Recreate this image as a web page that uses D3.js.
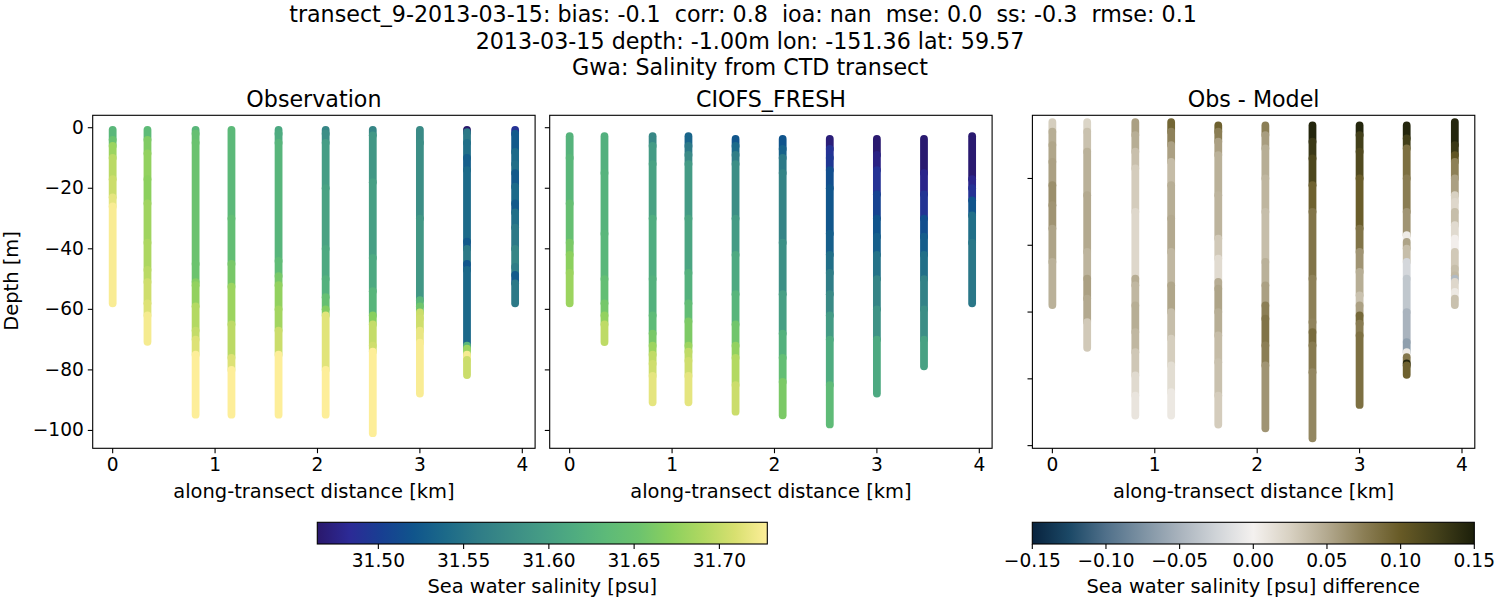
<![CDATA[<!DOCTYPE html>
<html>
<head>
<meta charset="utf-8">
<script src="https://cdn.jsdelivr.net/npm/d3@7"></script>
<style>
  html, body { margin: 0; padding: 0; background: #fff; overflow: hidden; }
  svg { display: block; }
  text { font-family: "DejaVu Sans", sans-serif; fill: #000; white-space: pre; }
</style>
</head>
<body>
<div id="chart"></div>
<script>
// station positions along the transect [km]
var stationKm = [0, 0.34, 0.81, 1.16, 1.62, 2.08, 2.54, 3.0, 3.46, 3.93];

var titleLines = [
  "transect_9-2013-03-15: bias: -0.1  corr: 0.8  ioa: nan  mse: 0.0  ss: -0.3  rmse: 0.1",
  "2013-03-15 depth: -1.00m lon: -151.36 lat: 59.57",
  "Gwa: Salinity from CTD transect"
];
var panelTitles = ["Observation", "CIOFS_FRESH", "Obs - Model"];

// each column: depth band edges [m] and the value read for each band
var obsDepth = [
  [-0.7,-4,-6,-10,-17,-23,-26,-58],
  [-0.7,-4,-8.5,-17,-25,-38,-47,-51,-58,-62,-70.7],
  [-0.7,-2,-5,-45,-51,-52,-59,-67,-70,-75,-94.8],
  [-0.7,-30,-45,-52.5,-65,-76,-80,-94.8],
  [-0.7,-2,-5,-44,-49,-52,-60,-67,-75,-94.8],
  [-0.7,-2,-5,-20,-40,-50,-56,-60,-62,-80,-94.8],
  [-0.7,-2.5,-18,-43,-54,-62,-65,-72,-74,-100.9],
  [-0.7,-5,-30,-57,-59,-61,-63,-67,-71,-87.8],
  [-0.7,-1.5,-5,-10,-14,-37.6,-40,-45,-47,-72,-73,-75,-76.7,-81.7],
  [-0.7,-2,-8,-12,-15,-19.5,-25,-28,-33,-40,-46,-48.6,-51.4,-58]
];
var obsSal = [
  [31.63,31.65,31.68,31.695,31.703,31.716,31.726],
  [31.635,31.665,31.675,31.672,31.682,31.689,31.695,31.705,31.712,31.724],
  [31.628,31.645,31.65,31.652,31.667,31.675,31.692,31.70,31.712,31.728],
  [31.632,31.642,31.66,31.68,31.696,31.712,31.728],
  [31.61,31.615,31.627,31.638,31.66,31.675,31.684,31.703,31.728],
  [31.57,31.58,31.597,31.603,31.612,31.622,31.645,31.667,31.714,31.728],
  [31.57,31.59,31.60,31.612,31.627,31.67,31.70,31.705,31.728],
  [31.575,31.58,31.59,31.63,31.655,31.703,31.705,31.718,31.726],
  [31.464,31.555,31.545,31.53,31.54,31.525,31.555,31.522,31.538,31.628,31.68,31.724,31.703],
  [31.49,31.525,31.54,31.545,31.525,31.54,31.525,31.545,31.555,31.57,31.56,31.525,31.555]
];

var modelDepth = [
  [-2.8,-10,-25,-38,-42,-48,-58],
  [-2.8,-15,-35,-50,-58,-62,-65,-70.8],
  [-2.8,-6,-12,-30,-50,-62,-68,-72,-75,-78,-82,-90.7],
  [-2.8,-6,-9,-12,-30,-48,-58,-64,-72,-74,-77,-82,-90.7],
  [-3.7,-6,-9,-12,-30,-42,-55,-65,-72,-76,-85,-93.8],
  [-3.7,-7,-10,-15,-38,-55,-68,-76,-84,-95],
  [-3.7,-7,-10,-14,-20,-35,-42,-48,-55,-62,-70,-85,-98],
  [-3.7,-9,-14,-22,-30,-36,-42,-50,-60,-70,-87.8],
  [-3.7,-15,-22,-30,-36,-42,-50,-60,-70,-78.8],
  [-2.8,-17,-20,-24,-29,-38,-58]
];
var modelSal = [
  [31.625,31.63,31.645,31.662,31.672,31.68],
  [31.62,31.625,31.63,31.642,31.658,31.675,31.697],
  [31.572,31.595,31.603,31.616,31.622,31.635,31.66,31.68,31.698,31.705,31.716],
  [31.535,31.555,31.575,31.595,31.607,31.622,31.64,31.663,31.68,31.698,31.705,31.716],
  [31.522,31.54,31.56,31.58,31.595,31.612,31.627,31.655,31.675,31.692,31.703],
  [31.52,31.532,31.555,31.568,31.582,31.60,31.622,31.642,31.662],
  [31.47,31.49,31.495,31.515,31.522,31.53,31.545,31.56,31.575,31.595,31.615,31.636],
  [31.466,31.475,31.49,31.505,31.52,31.53,31.548,31.568,31.585,31.612],
  [31.466,31.478,31.492,31.515,31.528,31.545,31.565,31.58,31.602],
  [31.466,31.478,31.49,31.52,31.545,31.553]
];

var diffDepth = [
  [-3.1,-6,-10,-15,-22,-28,-35,-45,-57.9],
  [-3.1,-6,-12,-25,-42,-50,-56,-63,-70.7],
  [-3.1,-7,-12,-17,-30,-50,-52,-58,-66,-72,-79,-85,-91],
  [-3.1,-6,-10,-15,-22,-32,-42,-52,-60,-68,-76,-84,-91],
  [-4.1,-6,-9,-13,-25,-38,-44,-51,-53,-60,-67,-75,-85,-93.7],
  [-4.1,-7,-11,-20,-30,-45,-52,-58,-62,-70,-76,-94.8],
  [-4.1,-9,-14,-22,-30,-50,-63,-66,-70,-78,-97.8],
  [-4.1,-7,-12,-20,-35,-42,-48,-55,-58,-61,-63.5,-67,-87.8],
  [-4.1,-8,-11,-20,-30,-37,-39,-41,-45,-50,-60,-69,-72,-73.5,-75.4,-76,-78.8],
  [-3.1,-10,-13,-15,-20,-25,-27,-30,-34,-38,-42,-47,-49,-50,-51,-54,-56,-57.9]
];
var diffVal = [
  [0.027,0.047,0.052,0.055,0.065,0.062,0.053,0.045],
  [0.022,0.035,0.045,0.05,0.043,0.055,0.05,0.03],
  [0.055,0.047,0.036,0.028,0.02,0.048,0.041,0.047,0.041,0.031,0.018,0.01],
  [0.092,0.073,0.055,0.038,0.047,0.05,0.041,0.052,0.037,0.027,0.016,0.007],
  [0.095,0.075,0.055,0.045,0.043,0.03,0.017,0.048,0.053,0.047,0.038,0.035,0.028],
  [0.075,0.057,0.047,0.042,0.037,0.045,0.055,0.075,0.082,0.075,0.062],
  [0.145,0.13,0.118,0.095,0.082,0.074,0.072,0.088,0.078,0.07],
  [0.145,0.125,0.115,0.098,0.082,0.062,0.047,0.035,0.055,0.09,0.077,0.085],
  [0.145,0.125,0.085,0.076,0.062,0.005,0.053,0.037,-0.022,-0.035,-0.05,-0.065,0.005,0.08,0.145,0.095],
  [0.145,0.13,0.105,0.074,0.055,0.025,0.02,0.037,0.018,0.002,0.03,0.037,0.04,-0.045,0.02,0.007,0.035]
];

var xTicks = [0, 1, 2, 3, 4];
var depthTicks = [0, -20, -40, -60, -80, -100];
var diffDepthTicks = [-20, -40, -60, -80, -100];
var salTicks = [31.50, 31.55, 31.60, 31.65, 31.70];
var diffTicks = [-0.15, -0.10, -0.05, 0.00, 0.05, 0.10, 0.15];

// colours sampled along the two colour bars
var halineStops = ["#2a186c","#2c2a96","#183f92","#10558c","#1c6a89","#2f7c87","#3b8c86","#459c85","#4fac80","#5dba78","#6cc36e","#8bd05e","#b0d861","#d8e070","#fdee99"];
var diffStops = ["#08233e","#1b4866","#50708a","#7d92a3","#a9b3bd","#d0d4d8","#f4f1ef","#d8d1c2","#b3a98f","#8b7e55","#675a26","#43401a","#1c1f0a"];

var width = 1500, height = 600;
var svg = d3.select("#chart").append("svg").attr("width", width).attr("height", height);

var fmtMinus = function(s){ return s.replace("-", "\u2212"); };

var halineScale = d3.scaleLinear()
  .domain(halineStops.map(function(d,i){ return i/(halineStops.length-1); }))
  .range(halineStops);
var diffScale = d3.scaleLinear()
  .domain(diffStops.map(function(d,i){ return i/(diffStops.length-1); }))
  .range(diffStops);

var salNorm = d3.scaleLinear().domain([31.4642, 31.7281]).range([0, 1]).clamp(true);
var diffNorm = d3.scaleLinear().domain([-0.15, 0.15]).range([0, 1]).clamp(true);

function salColor(v){ return halineScale(salNorm(v)); }
function diffColor(v){ return diffScale(diffNorm(v)); }

var panelTop = 115.3, panelBottom = 448.3, panelW = 442.4;
var tickFont = 18.6, labelFont = 19.44, titleFont = 22.2;

function drawPanel(left, title, depths, values, color, yDomain, yTicks, showY){
  var x = d3.scaleLinear().domain([-0.195, 4.125]).range([left, left + panelW]);
  var y = d3.scaleLinear().domain(yDomain).range([panelTop, panelBottom]);
  var g = svg.append("g");

  // shallow first, deeper bands are painted over them
  depths.forEach(function(edges, c){
    g.append("g").selectAll("line")
      .data(values[c])
      .enter()
      .append("line")
      .attr("x1", x(stationKm[c]))
      .attr("x2", x(stationKm[c]))
      .attr("y1", function(d,i){ return y(edges[i]); })
      .attr("y2", function(d,i){ return y(edges[i+1]); })
      .attr("stroke", function(d){ return color(d); })
      .attr("stroke-width", 7.8)
      .attr("stroke-linecap", "round");
  });

  var ax = g.append("g").attr("transform", "translate(0," + panelBottom + ")")
    .call(d3.axisBottom(x).offset(0).tickValues(xTicks).tickFormat(d3.format("d")).tickSize(4.9).tickPadding(5));
  var ay = g.append("g").attr("transform", "translate(" + left + ",0)")
    .call(d3.axisLeft(y).offset(0).tickValues(yTicks).tickSize(4.9).tickPadding(4)
      .tickFormat(function(d){ return fmtMinus(String(d)); }));
  if(!showY) ay.selectAll("text").remove();
  [ax, ay].forEach(function(a){
    a.select(".domain").remove();
    a.selectAll("line").attr("stroke", "#000").attr("stroke-width", 1.1);
    a.selectAll("text").attr("font-size", tickFont).attr("font-family", "DejaVu Sans");
  });

  g.append("rect")
    .attr("x", left).attr("y", panelTop)
    .attr("width", panelW).attr("height", panelBottom - panelTop)
    .attr("fill", "none").attr("stroke", "#000").attr("stroke-width", 1.1);

  g.append("text")
    .attr("x", left + panelW/2).attr("y", 107)
    .attr("text-anchor", "middle").attr("font-size", titleFont)
    .text(title);
  g.append("text")
    .attr("x", left + panelW/2).attr("y", 498)
    .attr("text-anchor", "middle").attr("font-size", labelFont)
    .text("along-transect distance [km]");
}

drawPanel(92.7, panelTitles[0], obsDepth, obsSal, salColor, [4.1, -105.9], depthTicks, true);
drawPanel(549.7, panelTitles[1], modelDepth, modelSal, salColor, [4.1, -105.9], depthTicks, false);
drawPanel(1032.4, panelTitles[2], diffDepth, diffVal, diffColor, [-1.08, -100.8], diffDepthTicks, false);

svg.append("text")
  .attr("transform", "translate(18,281) rotate(-90)")
  .attr("text-anchor", "middle").attr("font-size", labelFont)
  .text("Depth [m]");

// suptitle
var titleX = [743, 750, 750], titleY = [22, 49, 75];
svg.selectAll("text.suptitle")
  .data(titleLines)
  .enter()
  .append("text")
  .attr("class", "suptitle")
  .attr("x", function(d,i){ return titleX[i]; })
  .attr("y", function(d,i){ return titleY[i]; })
  .attr("text-anchor", "middle").attr("font-size", titleFont)
  .text(function(d){ return d; });

// colour bars
function drawColorbar(id, x0, x1, domain, stops, ticks, fmt, label){
  var cbTop = 522.3, cbBottom = 544;
  var scale = d3.scaleLinear().domain(domain).range([x0, x1]);
  var grad = svg.append("defs").append("linearGradient").attr("id", id);
  grad.selectAll("stop")
    .data(stops)
    .enter()
    .append("stop")
    .attr("offset", function(d,i){ return i/(stops.length-1); })
    .attr("stop-color", function(d){ return d; });
  svg.append("rect")
    .attr("x", x0).attr("y", cbTop)
    .attr("width", x1 - x0).attr("height", cbBottom - cbTop)
    .attr("fill", "url(#" + id + ")")
    .attr("stroke", "#000").attr("stroke-width", 1.1);
  var ax = svg.append("g").attr("transform", "translate(0," + cbBottom + ")")
    .call(d3.axisBottom(scale).offset(0).tickValues(ticks).tickSize(4.9).tickPadding(5).tickFormat(fmt));
  ax.select(".domain").remove();
  ax.selectAll("line").attr("stroke", "#000").attr("stroke-width", 1.1);
  ax.selectAll("text").attr("font-size", tickFont).attr("font-family", "DejaVu Sans");
  svg.append("text")
    .attr("x", (x0 + x1)/2).attr("y", 593)
    .attr("text-anchor", "middle").attr("font-size", labelFont)
    .text(label);
}

drawColorbar("haline", 317.3, 767.3, [31.4642, 31.7281], halineStops, salTicks,
  d3.format(".2f"), "Sea water salinity [psu]");
drawColorbar("diffmap", 1032.3, 1474.3, [-0.15, 0.15], diffStops, diffTicks,
  function(d){ return fmtMinus(d3.format(".2f")(d)); }, "Sea water salinity [psu] difference");
</script>
</body>
</html>
]]>
